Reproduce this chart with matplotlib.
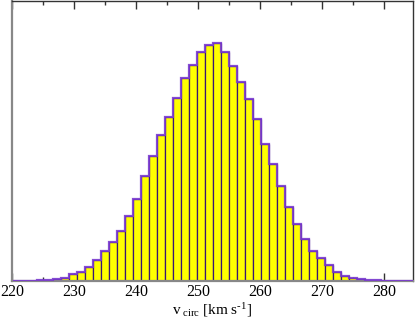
import numpy as np
import matplotlib
matplotlib.use("Agg")
import matplotlib.pyplot as plt

plt.rcParams['font.family'] = ['Liberation Serif', 'DejaVu Serif']
plt.rcParams['mathtext.fontset'] = 'custom'
plt.rcParams['mathtext.rm'] = 'Liberation Serif'
plt.rcParams['mathtext.it'] = 'Liberation Serif:italic'

bin_start = 220.2
bin_width = 1.29
counts = [0.2, 0.3, 0.5, 0.7, 1.2, 1.8, 3.5, 6.8, 9.5, 14.2,
          20.8, 29.8, 39.2, 50.5, 64.8, 82.5, 104.8, 125.0, 145.6, 163.5,
          182.5, 202.5, 215.5, 228.8, 236.2, 238.2, 228.8, 214.8, 199.2, 181.6,
          161.5, 136.5, 117.2, 95.2, 74.5, 56.8, 42.2, 30.5, 23.2, 15.8,
          9.4, 5.0, 3.0, 1.7, 1.0, 0.7, 0.5, 0.4, 0.3, 0.2]
xticks = [220, 230, 240, 250, 260, 270, 280]
xlabel = r'v$_{\mathrm{\ circ}}$ [km s$^{\mathrm{\text{-}1}}$]'

edges = bin_start + bin_width * np.arange(len(counts) + 1)

fig = plt.figure(figsize=(4.15, 3.25), dpi=100)
ax = fig.add_axes([12/415, 44/325, 401/415, 280/325])

ax.bar(edges[:-1], counts, width=bin_width, align='edge', color='#ffff00',
       edgecolor='#3a1870', linewidth=0.9, zorder=2)
ax.stairs(counts, edges, color='#7a3ad0', linewidth=1.6, zorder=3, alpha=0.9)

ax.set_xlim(220, 284.7)
ax.set_ylim(0, 280)
ax.set_xticks(xticks)
ax.set_xticks(np.arange(225, 285, 10), minor=True)
ax.set_yticks([])
ax.tick_params(axis='x', which='major', direction='in', length=6, width=1,
               top=True, labelsize=11.5, pad=2, color='#333333')
ax.tick_params(axis='x', which='minor', direction='in', length=3, width=1,
               top=True, color='#333333')
for s in ['top', 'right']:
    ax.spines[s].set_color('#333333')
    ax.spines[s].set_linewidth(1)
for s in ['left', 'bottom']:
    ax.spines[s].set_color('#888888')
    ax.spines[s].set_linewidth(1.6)

ax.set_xlabel(xlabel, fontsize=11, labelpad=1)

fig.savefig('out.png', dpi=100)
